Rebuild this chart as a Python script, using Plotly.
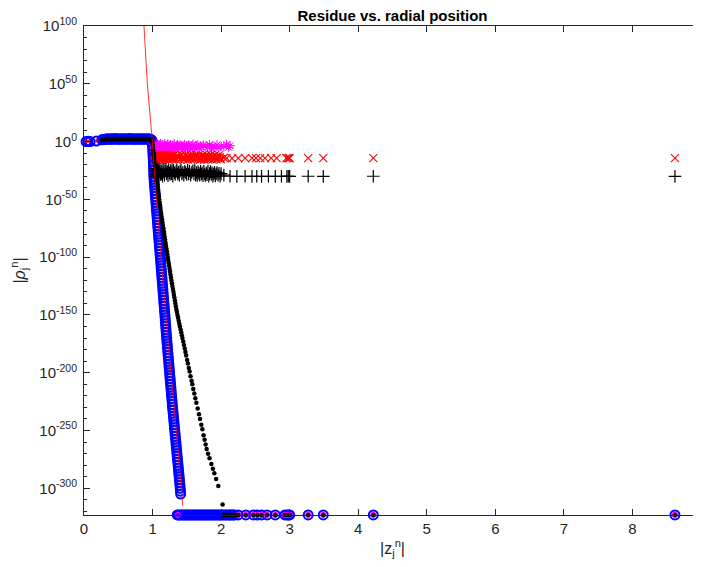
import plotly.graph_objects as go

# ---------------- data ----------------
# blue circles: flat part (|z|<1)
blue_flat_x = [0.03, 0.06, 0.09, 0.18, 0.26, 0.275, 0.29, 0.305, 0.32, 0.335, 0.35, 0.365, 0.38,
               0.395, 0.41, 0.425, 0.44, 0.455, 0.47, 0.485, 0.50, 0.515, 0.53, 0.545, 0.56,
               0.575, 0.59, 0.605, 0.62, 0.635, 0.65, 0.665, 0.68, 0.695, 0.71, 0.725, 0.74,
               0.755, 0.77, 0.785, 0.80, 0.815, 0.83, 0.845, 0.86, 0.875, 0.89, 0.905, 0.92,
               0.935, 0.95, 0.965, 0.98, 0.99]
blue_flat_y = [1e0, 2e0, 1e0, 3e0, 3e1, 5e1, 8e1, 1e2, 2e2, 1e2, 3e2, 2e2, 1e2,
               2e2, 3e2, 1e2, 2e2, 4e2, 2e2, 1e2, 3e2, 2e2, 1e2, 2e2, 3e2,
               2e2, 1e2, 3e2, 2e2, 1e2, 2e2, 4e2, 2e2, 1e2, 3e2, 2e2, 1e2,
               2e2, 3e2, 1e2, 2e2, 3e2, 2e2, 1e2, 2e2, 3e2, 2e2, 1e2, 2e2,
               3e2, 2e2, 1e2, 5e1, 1e1]
# blue circles: steep descent
blue_drop_x = [0.997, 0.999, 1.001, 1.003, 1.005, 1.007, 1.009, 1.011, 1.013, 1.015, 1.016,
               1.018, 1.019, 1.021, 1.024, 1.028, 1.031, 1.035, 1.038, 1.041, 1.045, 1.048,
               1.052, 1.055, 1.058, 1.062, 1.065, 1.069, 1.072, 1.075, 1.079, 1.082, 1.086,
               1.089, 1.092, 1.096, 1.099, 1.103, 1.106, 1.109, 1.113, 1.116, 1.120, 1.123,
               1.126, 1.130, 1.133, 1.137, 1.140, 1.143, 1.147, 1.150, 1.153, 1.156, 1.160,
               1.163, 1.166, 1.170, 1.173, 1.176, 1.180, 1.183, 1.186, 1.189, 1.193, 1.196,
               1.199, 1.203, 1.206, 1.209, 1.213, 1.216, 1.220, 1.223, 1.227, 1.231, 1.234,
               1.238, 1.241, 1.245, 1.249, 1.252, 1.256, 1.259, 1.263, 1.267, 1.270, 1.274,
               1.277, 1.281, 1.285, 1.288, 1.292, 1.296, 1.300, 1.304, 1.308, 1.312, 1.316,
               1.320, 1.324, 1.328, 1.332, 1.336, 1.340, 1.344, 1.348, 1.352, 1.356, 1.360,
               1.364, 1.368, 1.372, 1.376, 1.380, 1.384, 1.388, 1.392, 1.396, 1.400, 1.404,
               1.407, 1.410]
blue_drop_y = [1e0, 3e-3, 1e-5, 3e-8, 1e-10, 3e-13, 1e-15, 3e-18, 1e-20, 3e-23, 1e-25,
               3e-28, 1e-30, 3e-33, 1e-35, 3e-38, 1e-40, 3e-43, 1e-45, 3e-48, 1e-50, 3e-53,
               1e-55, 3e-58, 1e-60, 3e-63, 1e-65, 3e-68, 1e-70, 3e-73, 1e-75, 3e-78, 1e-80,
               3e-83, 1e-85, 3e-88, 1e-90, 3e-93, 1e-95, 3e-98, 1e-100, 3e-103, 1e-105, 3e-108,
               1e-110, 3e-113, 1e-115, 3e-118, 1e-120, 3e-123, 1e-125, 3e-128, 1e-130, 3e-133, 1e-135,
               3e-138, 1e-140, 3e-143, 1e-145, 3e-148, 1e-150, 3e-153, 1e-155, 3e-158, 1e-160, 3e-163,
               1e-165, 3e-168, 1e-170, 3e-173, 1e-175, 3e-178, 1e-180, 3e-183, 1e-185, 3e-188, 1e-190,
               3e-193, 1e-195, 3e-198, 1e-200, 3e-203, 1e-205, 3e-208, 1e-210, 3e-213, 1e-215, 3e-218,
               1e-220, 3e-223, 1e-225, 3e-228, 1e-230, 3e-233, 1e-235, 3e-238, 1e-240, 3e-243, 1e-245,
               3e-248, 1e-250, 3e-253, 1e-255, 3e-258, 1e-260, 3e-263, 1e-265, 3e-268, 1e-270, 3e-273,
               1e-275, 3e-278, 1e-280, 3e-283, 1e-285, 3e-288, 1e-290, 3e-293, 1e-295, 3e-298, 1e-300,
               3e-303, 1e-305]
# values sitting on the floor of the axis (smallest representable)
floor_val = 1e-323
blue_floor_x = [1.36, 1.38, 1.40, 1.42, 1.44, 1.46, 1.48, 1.50, 1.52, 1.54, 1.56, 1.58, 1.60,
                1.62, 1.64, 1.66, 1.68, 1.70, 1.72, 1.74, 1.76, 1.78, 1.80, 1.82, 1.84, 1.86,
                1.88, 1.90, 1.92, 1.94, 1.96, 1.98, 2.00, 2.02, 2.04, 2.06, 2.08, 2.10, 2.12,
                2.14, 2.16, 2.18, 2.20, 2.25, 2.36, 2.47, 2.53, 2.59, 2.67, 2.79, 2.93, 2.96,
                2.98, 3.00, 3.27, 3.49, 4.22, 8.62]

# black dots
black_flat_x = [0.26, 0.275, 0.29, 0.305, 0.32, 0.335, 0.35, 0.365, 0.38, 0.395, 0.41, 0.425,
                0.44, 0.455, 0.47, 0.485, 0.50, 0.515, 0.53, 0.545, 0.56, 0.575, 0.59, 0.605,
                0.62, 0.635, 0.65, 0.665, 0.68, 0.695, 0.71, 0.725, 0.74, 0.755, 0.77, 0.785,
                0.80, 0.815, 0.83, 0.845, 0.86, 0.875, 0.89, 0.905, 0.92, 0.935, 0.95, 0.965,
                0.98, 0.99]
black_flat_y = [3e1, 5e1, 8e1, 1e2, 2e2, 1e2, 2e2, 1e2, 2e2, 2e2, 1e2, 2e2,
                2e2, 1e2, 2e2, 2e2, 1e2, 2e2, 2e2, 1e2, 2e2, 2e2, 1e2, 2e2,
                2e2, 1e2, 2e2, 2e2, 1e2, 2e2, 2e2, 1e2, 2e2, 2e2, 1e2, 2e2,
                2e2, 1e2, 2e2, 2e2, 1e2, 2e2, 2e2, 1e2, 2e2, 2e2, 1e2, 1e2,
                5e1, 1e1]
black_drop_x = [0.996, 1.001, 1.005, 1.010, 1.014, 1.019, 1.023, 1.028, 1.032, 1.037, 1.041,
                1.046, 1.051, 1.056, 1.062, 1.068, 1.073, 1.079, 1.085, 1.091, 1.097, 1.103,
                1.109, 1.115, 1.120, 1.126, 1.132, 1.139, 1.145, 1.151, 1.158, 1.164, 1.170,
                1.176, 1.183, 1.189, 1.195, 1.202, 1.208, 1.215, 1.222, 1.228, 1.235, 1.241,
                1.248, 1.255, 1.261, 1.268, 1.275, 1.282, 1.289, 1.297, 1.304, 1.311, 1.318,
                1.326, 1.333, 1.340, 1.347, 1.355, 1.363, 1.372, 1.381, 1.390, 1.399, 1.409,
                1.418, 1.427, 1.436, 1.447, 1.458, 1.469, 1.480, 1.490, 1.504, 1.515, 1.529,
                1.540, 1.554, 1.569, 1.580, 1.594, 1.609, 1.624, 1.639, 1.658, 1.677, 1.692,
                1.711, 1.726, 1.744, 1.759, 1.774, 1.789, 1.810, 1.831, 1.858, 1.880, 1.901,
                1.927, 1.959, 2.022]
black_drop_y = [1e0, 3e-3, 1e-5, 3e-8, 1e-10, 3e-13, 1e-15, 3e-18, 1e-20, 3e-23, 1e-25,
                3e-28, 1e-30, 3e-33, 1e-35, 3e-38, 1e-40, 3e-43, 1e-45, 3e-48, 1e-50, 3e-53,
                1e-55, 3e-58, 1e-60, 3e-63, 1e-65, 3e-68, 1e-70, 3e-73, 1e-75, 3e-78, 1e-80,
                3e-83, 1e-85, 3e-88, 1e-90, 3e-93, 1e-95, 3e-98, 1e-100, 3e-103, 1e-105, 3e-108,
                1e-110, 3e-113, 1e-115, 3e-118, 1e-120, 3e-123, 1e-125, 3e-128, 1e-130, 3e-133, 1e-135,
                3e-138, 1e-140, 3e-143, 1e-145, 3e-148, 1e-150, 3e-153, 1e-155, 3e-158, 1e-160, 3e-163,
                1e-165, 3e-168, 1e-170, 1e-173, 1e-176, 1e-179, 1e-182, 1e-185, 1e-189, 1e-192, 1e-196,
                1e-199, 1e-203, 1e-207, 1e-210, 1e-214, 1e-218, 1e-222, 1e-226, 1e-231, 1e-236, 1e-240,
                1e-245, 1e-249, 1e-254, 1e-258, 1e-262, 1e-266, 1e-270, 1e-274, 1e-279, 1e-283, 1e-287,
                1e-292, 1e-298, 1e-314]
black_floor_x = [2.03, 2.05, 2.07, 2.09, 2.11, 2.13, 2.15, 2.17, 2.19, 2.21, 2.25, 2.36, 2.47,
                 2.53, 2.59, 2.67, 2.79, 2.93, 2.96, 2.98, 3.00, 3.27, 3.49, 4.22, 8.62]

# red dots at the far left
red_dot_x = [0.03, 0.06, 0.18]
red_dot_y = [1e0, 2e0, 3e0]

# magenta asterisks
mag_x = [1.020, 1.028, 1.036, 1.044, 1.052, 1.060, 1.068, 1.076, 1.084, 1.092, 1.100, 1.108,
         1.116, 1.124, 1.132, 1.140, 1.150, 1.160, 1.170, 1.180, 1.190, 1.200, 1.210, 1.220,
         1.230, 1.240, 1.250, 1.260, 1.270, 1.280, 1.292, 1.304, 1.316, 1.328, 1.340, 1.352,
         1.364, 1.376, 1.388, 1.400, 1.414, 1.428, 1.442, 1.456, 1.470, 1.484, 1.498, 1.512,
         1.526, 1.540, 1.556, 1.572, 1.588, 1.604, 1.620, 1.640, 1.660, 1.680, 1.700, 1.720,
         1.740, 1.780, 1.800, 1.830, 1.860, 1.880, 1.910, 1.940, 1.970, 2.000, 2.040, 2.080,
         2.110, 2.130]
mag_y = [3e-3, 2e-6, 1e-4, 5e-7, 2e-2, 4e-5, 1e-6, 3e-3, 2e-5, 1e-7, 4e-4, 2e-6,
         1e-2, 3e-5, 5e-7, 2e-3, 1e-5, 4e-7, 2e-4, 1e-2, 3e-6, 1e-4, 2e-7, 5e-3,
         1e-5, 3e-4, 1e-6, 2e-3, 4e-5, 1e-7, 2e-4, 3e-6, 1e-2, 2e-5, 4e-7, 1e-4,
         2e-3, 1e-5, 3e-4, 2e-6, 1e-3, 4e-5, 2e-7, 1e-4, 3e-3, 1e-6, 2e-4, 5e-6,
         1e-3, 3e-5, 1e-6, 2e-4, 5e-3, 1e-5, 3e-7, 2e-4, 1e-3, 3e-6, 1e-4, 2e-5,
         1e-3, 2e-4, 1e-5, 3e-3, 2e-6, 1e-4, 3e-5, 1e-3, 2e-6, 1e-4, 5e-5, 2e-3,
         1e-5, 3e-4]
mag_floor_x = [1.37, 2.25, 2.36, 2.47, 2.53, 2.59, 2.67, 2.79, 2.93, 2.96, 2.98, 3.00, 3.27,
               3.49, 4.22, 8.62]

# red crosses
redx_x = [1.025, 1.032, 1.040, 1.048, 1.056, 1.064, 1.072, 1.080, 1.088, 1.096, 1.104, 1.112,
          1.120, 1.128, 1.136, 1.145, 1.155, 1.165, 1.175, 1.185, 1.195, 1.205, 1.215, 1.225,
          1.235, 1.245, 1.255, 1.265, 1.275, 1.285, 1.296, 1.308, 1.320, 1.332, 1.344, 1.356,
          1.368, 1.380, 1.392, 1.404, 1.418, 1.432, 1.446, 1.460, 1.474, 1.488, 1.502, 1.516,
          1.530, 1.546, 1.562, 1.578, 1.594, 1.610, 1.622, 1.634, 1.646, 1.658, 1.670, 1.682,
          1.694, 1.706, 1.718, 1.730, 1.742, 1.754, 1.766, 1.778, 1.790, 1.802, 1.814, 1.826,
          1.838, 1.850, 1.862, 1.874, 1.886, 1.898, 1.910, 1.922, 1.934, 1.946, 1.958, 1.970,
          1.982, 1.995, 2.04, 2.08, 2.16, 2.25, 2.35, 2.45, 2.51, 2.57, 2.64, 2.73, 2.81, 2.95,
          2.97, 2.99, 3.00, 3.27, 3.49, 4.22, 8.62]
redx_y = [5e-12, 1e-16, 3e-13, 2e-15, 1e-12, 3e-16, 5e-14, 1e-12, 2e-15, 4e-13, 1e-16, 2e-14,
          3e-12, 5e-16, 1e-13, 2e-15, 4e-12, 1e-14, 3e-16, 2e-13, 5e-12, 1e-15, 3e-14, 2e-12,
          1e-16, 4e-13, 2e-15, 1e-12, 3e-14, 5e-16, 2e-13, 1e-15, 3e-12, 2e-14, 4e-16, 1e-13,
          2e-12, 5e-15, 1e-13, 3e-16, 2e-12, 1e-14, 4e-16, 3e-13, 1e-15, 2e-12, 5e-14, 2e-16,
          1e-13, 3e-15, 2e-12, 1e-14, 4e-16, 3e-13, 1e-15, 2e-12, 3e-14, 5e-16, 1e-12, 2e-14,
          3e-16, 5e-13, 1e-15, 2e-12, 4e-14, 3e-16, 1e-13, 2e-15, 3e-12, 1e-14, 5e-16, 2e-13,
          1e-15, 4e-12, 2e-14, 3e-16, 1e-13, 2e-15, 2e-12, 3e-14, 4e-16, 1e-13, 3e-15, 1e-12,
          2e-14, 5e-16, 1e-14, 5e-15, 3e-15, 5e-15, 4e-15, 5e-15, 4e-15, 5e-15, 4e-15, 5e-15,
          4e-15, 5e-15, 4e-15, 5e-15, 4e-15, 5e-15, 5e-15, 5e-15, 5e-15]

# black plus signs
kplus_x = [1.035, 1.042, 1.050, 1.058, 1.066, 1.074, 1.082, 1.090, 1.098, 1.106, 1.114, 1.122,
           1.130, 1.138, 1.146, 1.155, 1.165, 1.175, 1.185, 1.195, 1.205, 1.215, 1.225, 1.235,
           1.245, 1.255, 1.265, 1.275, 1.285, 1.295, 1.306, 1.318, 1.330, 1.342, 1.354, 1.366,
           1.378, 1.390, 1.402, 1.414, 1.428, 1.442, 1.456, 1.470, 1.484, 1.498, 1.512, 1.526,
           1.540, 1.556, 1.572, 1.588, 1.604, 1.616, 1.628, 1.640, 1.652, 1.664, 1.676, 1.688,
           1.700, 1.712, 1.724, 1.736, 1.748, 1.760, 1.772, 1.784, 1.796, 1.808, 1.820, 1.832,
           1.844, 1.856, 1.868, 1.880, 1.892, 1.904, 1.916, 1.928, 1.940, 1.955, 1.970, 1.985,
           2.00, 2.04, 2.13, 2.23, 2.35, 2.45, 2.52, 2.59, 2.69, 2.79, 2.88, 2.96, 2.98, 3.00,
           3.27, 3.49, 4.22, 8.62]
kplus_y = [3e-24, 1e-30, 2e-26, 5e-29, 1e-24, 3e-28, 1e-25, 2e-30, 5e-27, 1e-24, 3e-29, 2e-26,
           1e-28, 4e-25, 1e-30, 2e-27, 5e-25, 1e-29, 3e-26, 1e-24, 2e-28, 1e-26, 3e-30, 2e-25,
           1e-27, 4e-29, 1e-25, 2e-28, 5e-26, 1e-30, 2e-25, 1e-27, 3e-29, 1e-26, 2e-25, 1e-28,
           4e-27, 1e-29, 2e-26, 5e-25, 1e-28, 3e-27, 1e-29, 2e-26, 1e-27, 4e-29, 2e-25, 1e-28,
           3e-26, 1e-29, 2e-27, 5e-26, 1e-28, 3e-25, 1e-29, 2e-27, 4e-30, 1e-26, 3e-28, 1e-29,
           2e-26, 5e-29, 1e-27, 3e-30, 2e-26, 1e-28, 4e-30, 1e-27, 2e-29, 3e-26, 1e-30, 2e-28,
           1e-26, 3e-29, 2e-27, 1e-30, 1e-28, 3e-27, 2e-30, 1e-28, 2e-27, 1e-29, 3e-28, 1e-30,
           2e-28, 1e-29, 1e-30, 8e-31, 1e-30, 8e-31, 1e-30, 8e-31, 1e-30, 8e-31, 1e-30, 8e-31,
           1e-30, 8e-31, 1e-30, 8e-31, 1e-30, 8e-31]

# red reference line
line_x = [0.875, 0.924, 0.997, 1.035, 1.130, 1.230, 1.310, 1.440]
line_y = [1e100, 1e50, 1e0, 1e-33, 1e-105, 1e-177, 1e-226, 1e-315]

# axis ticks
x_ticks = [0, 1, 2, 3, 4, 5, 6, 7, 8, 9]
y_exps = [100, 50, 0, -50, -100, -150, -200, -250, -300]
y_minor_exps = [90, 80, 70, 60, 40, 30, 20, 10, -10, -20, -30, -40, -60, -70, -80, -90,
                -110, -120, -130, -140, -160, -170, -180, -190, -210, -220, -230, -240,
                -260, -270, -280, -290, -310, -320]

# ---------------- figure ----------------
FONT = "Liberation Sans, Arial, Helvetica, sans-serif"
AX = "#262626"

fig = go.Figure()

blue = dict(symbol="circle-open", size=9, color="#0000ff", line=dict(width=2, color="#0000ff"))
fig.add_trace(go.Scatter(x=blue_flat_x, y=blue_flat_y, mode="markers", marker=blue, cliponaxis=False))
fig.add_trace(go.Scatter(x=blue_drop_x, y=blue_drop_y, mode="markers", marker=blue, cliponaxis=False))
fig.add_trace(go.Scatter(x=blue_floor_x, y=[floor_val] * len(blue_floor_x), mode="markers",
                         marker=blue, cliponaxis=False))

fig.add_trace(go.Scatter(x=mag_floor_x, y=[floor_val] * len(mag_floor_x), mode="markers",
                         marker=dict(symbol="circle-open", size=5, color="#ff00ff",
                                     line=dict(width=1.2, color="#ff00ff")), cliponaxis=False))
fig.add_trace(go.Scatter(x=mag_x, y=mag_y, mode="markers",
                         marker=dict(symbol="asterisk-open", size=8, color="#ff00ff",
                                     line=dict(width=1, color="#ff00ff")), cliponaxis=False))
fig.add_trace(go.Scatter(x=redx_x, y=redx_y, mode="markers",
                         marker=dict(symbol="x-thin-open", size=8, color="#ff0000",
                                     line=dict(width=1.1, color="#ff0000")), cliponaxis=False))
fig.add_trace(go.Scatter(x=kplus_x, y=kplus_y, mode="markers",
                         marker=dict(symbol="cross-thin-open", size=9, color="#000000",
                                     line=dict(width=1.2, color="#000000")), cliponaxis=False))

kdot = dict(symbol="circle", size=4.5, color="#000000")
fig.add_trace(go.Scatter(x=black_flat_x, y=black_flat_y, mode="markers", marker=kdot, cliponaxis=False))
fig.add_trace(go.Scatter(x=black_drop_x, y=black_drop_y, mode="markers", marker=kdot, cliponaxis=False))
fig.add_trace(go.Scatter(x=black_floor_x, y=[floor_val] * len(black_floor_x), mode="markers",
                         marker=kdot, cliponaxis=False))
fig.add_trace(go.Scatter(x=red_dot_x, y=red_dot_y, mode="markers",
                         marker=dict(symbol="circle", size=3, color="#ff0000"), cliponaxis=False))

fig.add_trace(go.Scatter(x=line_x, y=line_y, mode="lines", line=dict(color="#ff0000", width=0.8)))

# the page body has an 8px default margin, so the figure is sized/offset to compensate
fig.update_layout(
    width=693, height=559,
    margin=dict(l=76, r=0, t=18, b=52),
    paper_bgcolor="white", plot_bgcolor="white",
    showlegend=False,
    font=dict(family=FONT, size=15, color=AX),
    title=dict(text="<b>Residue vs. radial position</b>", x=0.5, xref="paper", xanchor="center",
               y=0.986, yanchor="middle", font=dict(family=FONT, size=15, color="#000000")),
    xaxis=dict(range=[0, 9], tickvals=x_ticks, ticktext=[str(v) for v in x_ticks],
               ticks="inside", ticklen=6, tickcolor=AX, tickwidth=1,
               showline=True, linecolor=AX, linewidth=1, mirror="ticks",
               showgrid=False, zeroline=False, automargin=False,
               ticklabeloverflow="allow",
               tickfont=dict(size=15, color=AX),
               title=dict(text="|z<sub>j</sub><sup>n</sup>|", standoff=6,
                          font=dict(size=16, color=AX))),
    yaxis=dict(type="log", range=[-323.1, 100],
               tickvals=[10.0 ** e for e in y_exps],
               ticktext=["10<sup>%d</sup>" % e for e in y_exps],
               ticks="inside", ticklen=6, tickcolor=AX, tickwidth=1,
               showline=True, linecolor=AX, linewidth=1, mirror="ticks",
               showgrid=False, zeroline=False, automargin=False,
               ticklabelstandoff=3,
               tickfont=dict(size=15, color=AX),
               minor=dict(tickvals=[10.0 ** e for e in y_minor_exps], ticks="inside",
                          ticklen=3, tickcolor=AX, showgrid=False),
               title=dict(text="|<i>ρ</i><sub>j</sub><sup>n</sup>|", standoff=20,
                          font=dict(size=16, color=AX))),
)

fig.write_html("out.html")
